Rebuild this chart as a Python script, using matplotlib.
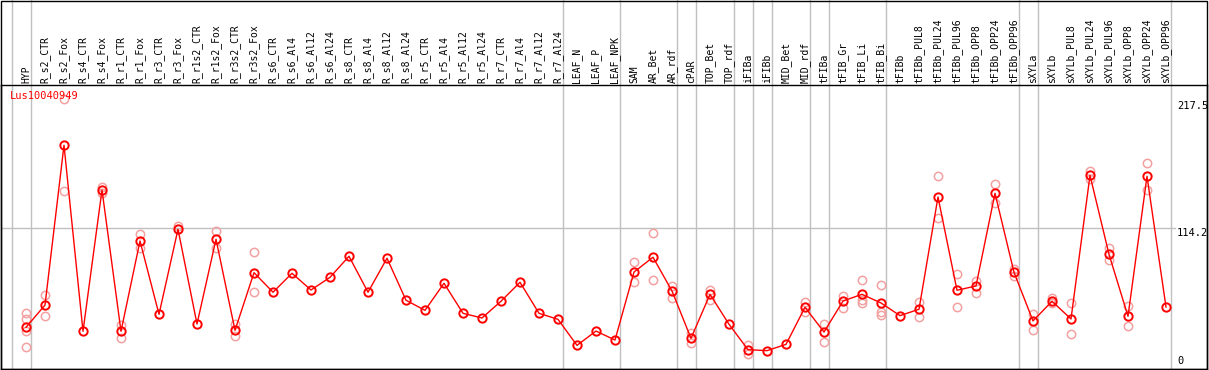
import matplotlib
matplotlib.use('Agg')
import matplotlib.pyplot as plt
import matplotlib.transforms as mtransforms
from matplotlib.patches import Rectangle

gene = 'Lus10040949'

samples = ['HYP', 'R_s2_CTR', 'R_s2_Fox', 'R_s4_CTR', 'R_s4_Fox', 'R_r1_CTR', 'R_r1_Fox',
           'R_r3_CTR', 'R_r3_Fox', 'R_r1s2_CTR', 'R_r1s2_Fox', 'R_r3s2_CTR', 'R_r3s2_Fox',
           'R_s6_CTR', 'R_s6_Al4', 'R_s6_Al12', 'R_s6_Al24', 'R_s8_CTR', 'R_s8_Al4',
           'R_s8_Al12', 'R_s8_Al24', 'R_r5_CTR', 'R_r5_Al4', 'R_r5_Al12', 'R_r5_Al24',
           'R_r7_CTR', 'R_r7_Al4', 'R_r7_Al12', 'R_r7_Al24', 'LEAF_N', 'LEAF_P', 'LEAF_NPK',
           'SAM', 'AR_Bet', 'AR_rdf', 'cPAR', 'TOP_Bet', 'TOP_rdf', 'iFIBa', 'iFIBb',
           'MID_Bet', 'MID_rdf', 'tFIBa', 'tFIB_Gr', 'tFIB_Li', 'tFIB_Bi', 'tFIBb',
           'tFIBb_PUL8', 'tFIBb_PUL24', 'tFIBb_PUL96', 'tFIBb_OPP8', 'tFIBb_OPP24',
           'tFIBb_OPP96', 'sXYLa', 'sXYLb', 'sXYLb_PUL8', 'sXYLb_PUL24', 'sXYLb_PUL96',
           'sXYLb_OPP8', 'sXYLb_OPP24', 'sXYLb_OPP96']

# mean expression
means = [33.8, 51.9, 181.6, 30.6, 145.3, 30.6, 103.9, 44.4, 113.4, 36.5, 105.3, 31.4, 78.2,
         62.3, 77.7, 64.1, 74.4, 91.5, 62.3, 89.9, 55.8, 47.6, 69.6, 45.2, 41.4, 55.0, 70.4,
         45.2, 40.3, 19.2, 30.8, 23.5, 78.7, 90.7, 63.3, 24.9, 60.6, 36.3, 15.7, 14.9, 20.0,
         50.1, 30.0, 55.2, 60.6, 53.6, 43.3, 48.5, 139.6, 63.9, 67.4, 142.6, 78.5, 39.0, 55.0,
         40.6, 157.2, 93.1, 42.8, 156.4, 50.3]

# replicate values
reps = [[45.2, 40.3, 31.1, 18.1], [60.1, 43.3], [144.2, 219.5], [], [147.5, 142.6],
        [35.7, 25.4], [109.3, 98.0], [], [116.1], [], [112.0, 98.5], [36.3, 26.5],
        [94.7, 62.7], [], [], [], [], [], [], [], [], [], [], [], [], [], [], [], [],
        [], [], [], [86.6, 70.4], [110.1, 72.0], [67.4, 57.9], [29.0, 21.3], [64.1, 56.0],
        [], [19.5, 12.4], [], [], [54.4, 46.0], [36.3, 21.7], [59.3, 49.3],
        [72.0, 56.0, 53.3], [67.9, 46.5, 43.8], [], [54.1, 42.0], [156.4, 122.3],
        [76.9, 50.3], [71.7, 61.9], [149.9, 134.5], [81.2, 75.5], [44.9, 31.4],
        [57.4, 53.3], [53.6, 28.4], [161.0, 154.0], [98.5, 88.5], [51.1, 34.7],
        [167.2, 145.5], []]

# sample groups start at these columns
group_starts = [0, 1, 29, 32, 35, 36, 38, 39, 40, 42, 43, 46, 53, 54, 61]
y_ticks = [217.5, 114.2, 0]

mono = 'DejaVu Sans Mono'
red = '#ff0000'
pink = '#f2a0a0'
grid = '#c0c0c0'

fig = plt.figure(figsize=(12.09, 3.70), dpi=100)
ax = fig.add_axes([1 / 1209, 1 / 370, 1206 / 1209, 284 / 370])
ax.set_xlim(-1.316, 62.158)
ax.set_ylim(0, 230.5)
ax.set_xticks([])
ax.set_yticks([])
for s in ax.spines.values():
    s.set_color('black')
    s.set_linewidth(1.0)

trans = mtransforms.blended_transform_factory(ax.transData, ax.transAxes)
top = 1 + 85 / 284
for g in group_starts:
    ax.plot([g - 0.75, g - 0.75], [0, top], color=grid, lw=1.0, transform=trans,
            clip_on=False, zorder=1)

ax.plot([-1.316, 60.5], [y_ticks[1], y_ticks[1]], color=grid, lw=1.0, zorder=1)

x = list(range(len(samples)))
for i, vals in enumerate(reps):
    if vals:
        ax.plot([i] * len(vals), vals, linestyle='none', marker='o', ms=6, mfc='none',
                mec=pink, mew=1.1, clip_on=False, zorder=2)
ax.plot(x, means, color=red, lw=1.0, marker='o', ms=6, mfc='none', mec=red, mew=1.4,
        zorder=3)

for i, name in enumerate(samples):
    ax.text(i, 1 + 2 / 284, name, rotation=90, ha='center', va='bottom', transform=trans,
            fontsize=7, family=mono, color='black')

ax.text(-0.85, 1 - 6 / 284, gene, ha='left', va='top', transform=trans, fontsize=7.5,
        family=mono, color=red)

ax.text(60.58, y_ticks[0], '217.5', ha='left', va='top', fontsize=7.5, family=mono)
ax.text(60.58, y_ticks[1], '114.2', ha='left', va='top', fontsize=7.5, family=mono)
ax.text(60.58, 2.5, '0', ha='left', va='bottom', fontsize=7.5, family=mono)

fig.patches.append(Rectangle((1 / 1209, 1 / 370), 1206 / 1209, 368 / 370, fill=False,
                             edgecolor='black', lw=1.0, transform=fig.transFigure))

fig.savefig('out.png', dpi=100)
